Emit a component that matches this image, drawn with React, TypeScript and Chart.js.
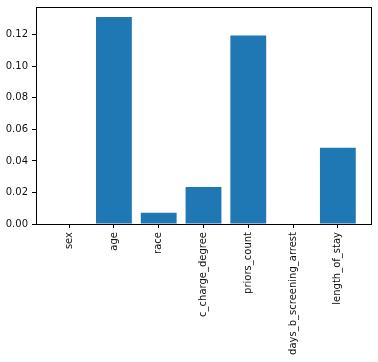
import React, { useEffect, useRef } from "react";
import { Chart, registerables } from "chart.js";

Chart.register(...registerables);

const categories = [
  "sex",
  "age",
  "race",
  "c_charge_degree",
  "priors_count",
  "days_b_screening_arrest",
  "length_of_stay",
];
const importances = [0, 0.1312, 0.0072, 0.0234, 0.1196, 0, 0.0483];
const yTickStep = 0.02;
const yMax = 0.1376;

const frame = {
  id: "frame",
  afterDraw(chart: any) {
    const { ctx, chartArea: a } = chart;
    ctx.save();
    ctx.strokeStyle = "#000";
    ctx.lineWidth = 1;
    ctx.strokeRect(Math.round(a.left) + 0.5, Math.round(a.top) + 0.5, Math.round(a.right - a.left), Math.round(a.bottom - a.top));
    ctx.restore();
  },
};

export default function App() {
  const ref = useRef<HTMLCanvasElement>(null);
  useEffect(() => {
    if (!ref.current) return;
    const font = { family: "DejaVu Sans", size: 10 };
    const chart = new Chart(ref.current, {
      type: "bar",
      data: {
        datasets: [
          {
            data: importances.map((v, i) => ({ x: i, y: v })),
            backgroundColor: "#1f77b4",
            borderColor: "#1f77b4",
            borderWidth: 0,
            categoryPercentage: 1,
            barPercentage: 0.8,
          },
        ],
      },
      options: {
        animation: false,
        responsive: false,
        maintainAspectRatio: false,
        layout: { padding: { top: 7, right: 7, left: 0, bottom: 0 } },
        plugins: { legend: { display: false }, tooltip: { enabled: false } },
        scales: {
          x: {
            type: "linear",
            offset: false,
            min: -0.74,
            max: categories.length - 1 + 0.74,
            afterFit(scale: any) {
              scale.height = 138;
            },
            grid: { offset: false, drawOnChartArea: false, drawTicks: true, tickLength: 4, color: "#000" },
            border: { display: true, color: "#000" },
            ticks: {
              stepSize: 1,
              includeBounds: false,
              autoSkip: false,
              minRotation: 90,
              maxRotation: 90,
              padding: 4,
              color: "#111",
              font,
              callback: (v: any) => (Number.isInteger(v) ? categories[v] ?? "" : ""),
            },
          },
          y: {
            min: 0,
            max: yMax,
            afterFit(scale: any) {
              scale.width = 36;
              scale.paddingTop = 0;
              scale.paddingBottom = 0;
            },
            grid: { drawOnChartArea: false, drawTicks: true, tickLength: 4, color: "#000" },
            border: { display: true, color: "#000" },
            ticks: {
              stepSize: yTickStep,
              includeBounds: false,
              padding: 4,
              color: "#111",
              font,
              callback: (v: any) => Number(v).toFixed(2),
            },
          },
        },
      },
      plugins: [frame],
    } as any);
    return () => chart.destroy();
  }, []);
  return (
    <div style={{ position: "fixed", left: 0, top: 0, width: 378, height: 362, background: "#fff" }}>
      <canvas ref={ref} width={378} height={362} style={{ width: 378, height: 362 }} />
    </div>
  );
}
